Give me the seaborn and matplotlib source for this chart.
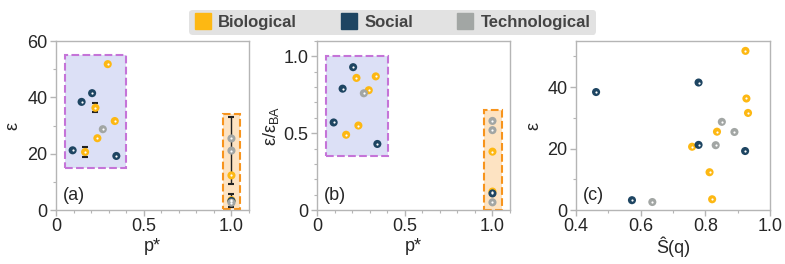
import numpy as np
import pandas as pd
import matplotlib
matplotlib.use("Agg")
import matplotlib.pyplot as plt
import seaborn as sns
from matplotlib.patches import Rectangle
from matplotlib.lines import Line2D
from matplotlib.ticker import MultipleLocator, FuncFormatter

# Data
groups = ["Biological", "Social", "Technological"]

bio_p = [0.166, 0.225, 0.236, 0.295, 0.335, 1.0, 1.0]
bio_eps = [20.6, 36.3, 25.5, 51.8, 31.6, 12.3, 3.5]
bio_err = [1.6, 1.6, 0.0, 0.0, 0.0, 0.0, 2.3]
bio_ratio = [0.49, 0.86, 0.55, 0.78, 0.87, 0.38, 0.12]
bio_s = [0.759, 0.927, 0.836, 0.924, 0.932, 0.813, 0.821]

soc_p = [0.095, 0.146, 0.206, 0.344, 1.0]
soc_eps = [21.2, 38.4, 41.5, 19.2, 3.2]
soc_err = [0.0, 0.0, 0.0, 0.0, 0.0]
soc_ratio = [0.57, 0.79, 0.93, 0.43, 0.108]
soc_s = [0.779, 0.462, 0.779, 0.923, 0.573]

tech_p = [0.267, 1.0, 1.0, 1.0]
tech_eps = [28.7, 25.4, 21.1, 2.6]
tech_err = [0.0, 0.0, 12.0, 0.0]
tech_ratio = [0.76, 0.58, 0.52, 0.05]
tech_s = [0.851, 0.890, 0.832, 0.636]

colors = {"Biological": "#FDB813", "Social": "#1E4562", "Technological": "#A2A6A4"}

# Build one tidy table
frames = []
for g, p, e, err, r, s in [
    ("Biological", bio_p, bio_eps, bio_err, bio_ratio, bio_s),
    ("Social", soc_p, soc_eps, soc_err, soc_ratio, soc_s),
    ("Technological", tech_p, tech_eps, tech_err, tech_ratio, tech_s),
]:
    frames.append(pd.DataFrame({"group": g, "p": p, "eps": e, "err": err, "ratio": r, "S": s}))
df = pd.concat(frames, ignore_index=True)

# Style
sns.set_theme(style="ticks")
plt.rcParams["font.family"] = ["Liberation Sans", "DejaVu Sans"]
plt.rcParams["mathtext.fontset"] = "custom"
plt.rcParams["mathtext.rm"] = "Liberation Sans"
plt.rcParams["mathtext.default"] = "regular"

spine_col = "#B5B5B5"
fs = 13

fig = plt.figure(figsize=(7.85, 2.64), dpi=100)
ax_a = fig.add_axes([0.0713, 0.2045, 0.2459, 0.640])
ax_b = fig.add_axes([0.4038, 0.2045, 0.2459, 0.640])
ax_c = fig.add_axes([0.7338, 0.2045, 0.2471, 0.640])


def draw_points(ax, x, y):
    sns.scatterplot(data=df, x=x, y=y, hue="group", palette=colors, s=34,
                    linewidth=0, legend=False, ax=ax, zorder=3)
    ax.scatter(df[x], df[y], s=2.5, color="white", linewidth=0, zorder=4)


def style_axis(ax, label):
    for sp in ax.spines.values():
        sp.set_color(spine_col)
        sp.set_linewidth(1.0)
    ax.tick_params(which="major", length=4, width=1, color=spine_col, labelsize=fs, pad=2)
    ax.tick_params(which="minor", length=2.5, width=0.8, color=spine_col)
    ax.tick_params(top=False, right=False, which="both")
    ax.text(0.035, 0.085, label, transform=ax.transAxes, fontsize=fs, va="center", ha="left")


fmt = FuncFormatter(lambda v, _: "0" if abs(v) < 1e-9 else f"{v:.1f}")

# (a)
ax_a.add_patch(Rectangle((0.05, 15), 0.35, 40, facecolor="#DCE0F6", edgecolor="#C574D8",
                         ls="--", lw=1.5, zorder=1))
ax_a.add_patch(Rectangle((0.95, 0.3), 0.10, 33.7, facecolor="#FDE3C2", edgecolor="#F7941D",
                         ls="--", lw=1.5, zorder=1))
eb = df[df["err"] > 0]
ax_a.errorbar(eb["p"], eb["eps"], yerr=eb["err"], fmt="none", ecolor="#222222",
              elinewidth=1.0, capsize=2.5, capthick=1.5, zorder=2)
draw_points(ax_a, "p", "eps")
ax_a.set_xlim(0, 1.1)
ax_a.set_ylim(0, 60)
ax_a.xaxis.set_major_locator(MultipleLocator(0.5))
ax_a.xaxis.set_minor_locator(MultipleLocator(0.1))
ax_a.xaxis.set_major_formatter(fmt)
ax_a.yaxis.set_major_locator(MultipleLocator(20))
ax_a.yaxis.set_minor_locator(MultipleLocator(10))
ax_a.set_xlabel("p*", fontsize=fs, labelpad=2)
ax_a.set_ylabel("ε", fontsize=fs, labelpad=4)
style_axis(ax_a, "(a)")

# (b)
ax_b.add_patch(Rectangle((0.05, 0.35), 0.355, 0.65, facecolor="#DCE0F6", edgecolor="#C574D8",
                         ls="--", lw=1.5, zorder=1))
ax_b.add_patch(Rectangle((0.95, 0.0), 0.105, 0.65, facecolor="#FDE3C2", edgecolor="#F7941D",
                         ls="--", lw=1.5, zorder=1))
draw_points(ax_b, "p", "ratio")
ax_b.set_xlim(0, 1.1)
ax_b.set_ylim(0, 1.1)
ax_b.xaxis.set_major_locator(MultipleLocator(0.5))
ax_b.xaxis.set_minor_locator(MultipleLocator(0.1))
ax_b.xaxis.set_major_formatter(fmt)
ax_b.yaxis.set_major_locator(MultipleLocator(0.5))
ax_b.yaxis.set_minor_locator(MultipleLocator(0.1))
ax_b.yaxis.set_major_formatter(fmt)
ax_b.set_xlabel("p*", fontsize=fs, labelpad=2)
ax_b.set_ylabel(r"ε/ε$_{\mathregular{BA}}$", fontsize=fs, labelpad=2)
style_axis(ax_b, "(b)")

# (c)
draw_points(ax_c, "S", "eps")
ax_c.set_xlim(0.4, 1.0)
ax_c.set_ylim(0, 55)
ax_c.xaxis.set_major_locator(MultipleLocator(0.2))
ax_c.xaxis.set_minor_locator(MultipleLocator(0.1))
ax_c.xaxis.set_major_formatter(fmt)
ax_c.yaxis.set_major_locator(MultipleLocator(20))
ax_c.yaxis.set_minor_locator(MultipleLocator(10))
ax_c.set_xlabel("Ŝ(q)", fontsize=fs, labelpad=1)
ax_c.set_ylabel("ε", fontsize=fs, labelpad=4)
style_axis(ax_c, "(c)")

# Legend
handles = [Line2D([], [], marker="s", ls="", ms=12, mfc=colors[g], mec=colors[g]) for g in groups]
leg = fig.legend(handles, groups, loc="upper center", bbox_to_anchor=(0.5, 0.995), ncol=3,
                 frameon=True, facecolor="#E2E2E2", edgecolor="none", fancybox=True,
                 handletextpad=0.45, columnspacing=2.6, borderpad=0.3,
                 handlelength=1.0, prop={"weight": "bold", "size": 12})
leg.get_frame().set_alpha(1)
for t in leg.get_texts():
    t.set_color("#444444")

fig.savefig("out.png", dpi=100)
